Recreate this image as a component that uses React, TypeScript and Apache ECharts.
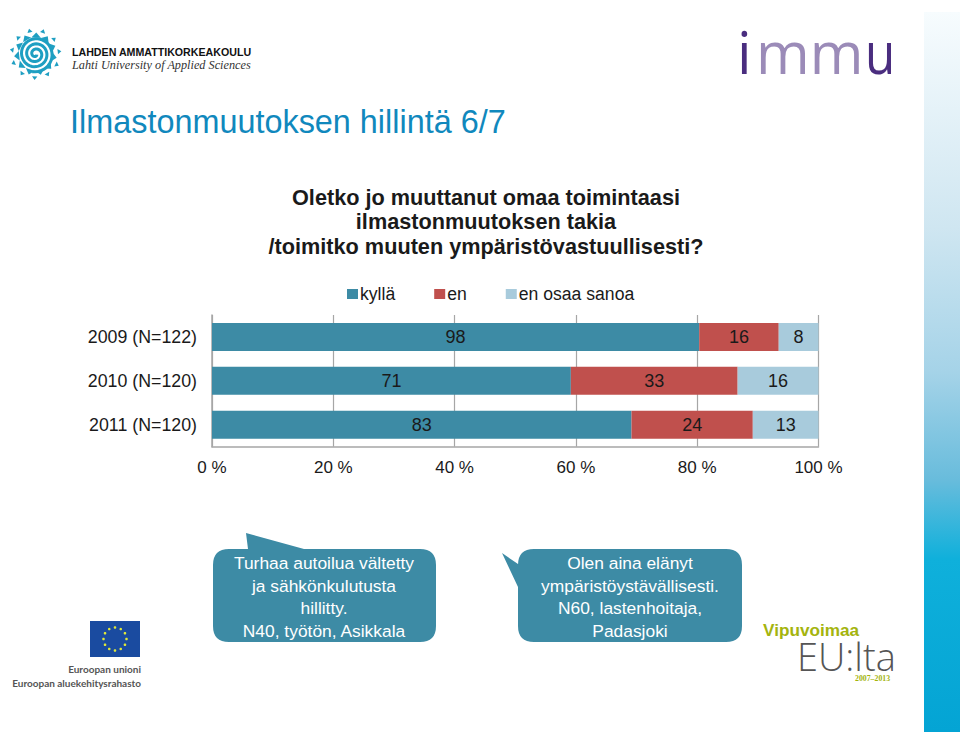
import React, { useEffect, useRef } from "react";
import * as echarts from "echarts";

const categories = ["2009 (N=122)", "2010 (N=120)", "2011 (N=120)"];
const kylla = [98, 71, 83];
const en = [16, 33, 24];
const eos = [8, 16, 13];
const totals = [122, 120, 120];
const ticks = [0, 20, 40, 60, 80, 100];
const chartTitle = ["Oletko jo muuttanut omaa toimintaasi", "ilmastonmuutoksen takia", "/toimitko muuten ympäristövastuullisesti?"];
const quoteA = ["Turhaa autoilua vältetty", "ja sähkönkulutusta", "hillitty.", "N40, työtön, Asikkala"];
const quoteB = ["Olen aina elänyt", "ympäristöystävällisesti.", "N60, lastenhoitaja,", "Padasjoki"];

const FF = "'Liberation Sans', Arial, sans-serif";
const TEAL = "#3d8ba5";
const RED = "#c0504d";
const LIGHT = "#a8cbdc";
const LOGO = "#1f9fc2";

const pct = (arr: number[]) => arr.map((v, i) => (v / totals[i]) * 100);

function bubblePath(x: number, y: number, w: number, h: number, r: number, tail: string) {
  const x2 = x + w, y2 = y + h;
  return `M${x + r} ${y}${tail.startsWith("T") ? tail.slice(1) : ""}L${x2 - r} ${y}Q${x2} ${y} ${x2} ${y + r}L${x2} ${y2 - r}Q${x2} ${y2} ${x2 - r} ${y2}L${x + r} ${y2}Q${x} ${y2} ${x} ${y2 - r}` +
    `${tail.startsWith("L") ? tail : ""}L${x} ${y + r}Q${x} ${y} ${x + r} ${y}Z`;
}

export default function App() {
  const ref = useRef<HTMLDivElement>(null);
  useEffect(() => {
    document.body.style.margin = "0";
    const chart = echarts.init(ref.current!, undefined, { renderer: "svg" });
    echarts.graphic.registerShape(
      "bubbleA",
      echarts.graphic.extendPath(bubblePath(213, 549, 223, 93, 16, "TL248 549L246 533L304 549"), {})
    );
    echarts.graphic.registerShape(
      "bubbleB",
      echarts.graphic.extendPath(bubblePath(518, 549, 224, 93, 16, "L518 587L502 553L518 564"), {})
    );
    const series = [
      { name: "kyllä", color: TEAL, vals: kylla },
      { name: "en", color: RED, vals: en },
      { name: "en osaa sanoa", color: LIGHT, vals: eos },
    ].map((s) => ({
      name: s.name,
      type: "bar" as const,
      stack: "total",
      barWidth: 28,
      itemStyle: { color: s.color },
      data: pct(s.vals),
      label: {
        show: true,
        position: "inside" as const,
        color: "#1a1a1a",
        fontFamily: FF,
        fontSize: 18,
        formatter: (p: any) => String(s.vals[p.dataIndex]),
      },
    }));

    const textLines = (lines: string[], cx: number, y0: number, lh: number, style: any) =>
      lines.map((t, i) => ({
        type: "text" as const,
        x: cx,
        y: y0 + i * lh,
        style: { text: t, align: "center", verticalAlign: "middle", fontFamily: FF, ...style },
      }));

    // sun logo: spiral and rays
    const LX = 35.5, LY = 54;
    const spiral: number[][] = [];
    for (let i = 0; i <= 120; i++) {
      const t = i / 120;
      const a = t * Math.PI * 2 * 3.2 + 0.5;
      const r = 1.5 + t * 16.5;
      spiral.push([LX + Math.cos(a) * r, LY + Math.sin(a) * r]);
    }
    const rays = Array.from({ length: 11 }, (_, i) => i).map((i) => {
      const a = (i / 11) * Math.PI * 2 - 1.25;
      const p = (r: number, d: number) => [LX + Math.cos(a + d) * r, LY + Math.sin(a + d) * r];
      return { type: "polygon" as const, shape: { points: [p(26, 0), p(22.5, -0.12), p(22.5, 0.12)] }, style: { fill: LOGO } };
    });
    const teeth = Array.from({ length: 11 }, (_, i) => i).map((i) => {
      const a = ((i + 0.5) / 11) * Math.PI * 2 - 1.25;
      const p = (r: number, d: number) => [LX + Math.cos(a + d) * r, LY + Math.sin(a + d) * r];
      return { type: "polygon" as const, shape: { points: [p(21.5, 0), p(17, -0.28), p(17, 0.28)] }, style: { fill: LOGO } };
    });

    chart.setOption({
      animation: false,
      backgroundColor: "#ffffff",
      legend: {
        top: 280,
        left: 342,
        itemWidth: 11,
        itemHeight: 10,
        itemGap: 39,
        icon: "rect",
        selectedMode: false,
        textStyle: { fontFamily: FF, fontSize: 17.6, color: "#1a1a1a", padding: [0, 0, 0, -3] },
      },
      grid: { left: 212, top: 315, width: 606.5, height: 131.7 },
      xAxis: {
        type: "value",
        min: 0,
        max: 100,
        interval: 20,
        axisLine: { show: true, lineStyle: { color: "#a6a6a6", width: 1.5 } },
        axisTick: { show: false },
        splitLine: { show: true, lineStyle: { color: "#a6a6a6", width: 1.2 } },
        axisLabel: {
          fontFamily: FF,
          fontSize: 17,
          color: "#1a1a1a",
          margin: 12,
          formatter: (v: number) => (ticks.includes(v) ? `${v} %` : ""),
        },
      },
      yAxis: {
        type: "category",
        inverse: true,
        data: categories,
        axisLine: { show: true, lineStyle: { color: "#a6a6a6", width: 1.5 } },
        axisTick: { show: false },
        axisLabel: { fontFamily: FF, fontSize: 17.8, color: "#1a1a1a", margin: 15 },
      },
      series,
      graphic: [
        // side band
        {
          type: "rect",
          shape: { x: 924, y: 12, width: 36, height: 720 },
          style: {
            fill: new echarts.graphic.LinearGradient(0, 0, 0, 1, [
              { offset: 0, color: "#f7fcfe" },
              { offset: 0.3, color: "#cfe6f1" },
              { offset: 0.5, color: "#a5d3e8" },
              { offset: 0.65, color: "#68bcdc" },
              { offset: 0.76, color: "#0fb0db" },
              { offset: 1, color: "#04a4d4" },
            ]),
          },
        },
        // Lahti logo
        { type: "polyline", shape: { points: spiral }, style: { stroke: LOGO, lineWidth: 3, fill: "none" } },
        ...teeth,
        ...rays,
        { type: "text", x: 72, y: 51.5, style: { text: "LAHDEN AMMATTIKORKEAKOULU", fontFamily: FF, fontWeight: "bold", fontSize: 10.65, fill: "#111", verticalAlign: "middle" } },
        { type: "text", x: 72, y: 65, style: { text: "Lahti University of Applied Sciences", fontFamily: "'Liberation Serif', serif", fontStyle: "italic", fontSize: 12.25, fill: "#333", verticalAlign: "middle" } },
        // immu
        { type: "text", x: 737, y: 51.5, style: { text: "i", fontFamily: "'Open Sans', sans-serif", fontSize: 58, fill: "#4a2d7f", verticalAlign: "middle" } },
        { type: "text", x: 756, y: 51.5, style: { text: "mm", fontFamily: "'Open Sans', sans-serif", fontSize: 58, fill: "#9b8bb8", verticalAlign: "middle" } },
        { type: "text", x: 865, y: 51.5, scaleX: 0.85, style: { text: "u", fontFamily: "'Open Sans', sans-serif", fontSize: 58, fill: "#4a2d7f", verticalAlign: "middle" } },
        // slide title
        { type: "text", x: 70, y: 122, style: { text: "Ilmastonmuutoksen hillintä 6/7", fontFamily: FF, fontSize: 32.4, fill: "#1088bd", verticalAlign: "middle" } },
        // chart title
        ...textLines(chartTitle, 486, 197, 24.7, { fontSize: 21.7, fontWeight: "bold", fill: "#1a1a1a" }),
        // bubbles
        { type: "bubbleA", style: { fill: TEAL } },
        { type: "bubbleB", style: { fill: TEAL } },
        ...textLines(quoteA, 324, 563, 22.7, { fontSize: 17.4, fill: "#ffffff" }),
        ...textLines(quoteB, 630, 563, 22.7, { fontSize: 17.4, fill: "#ffffff" }),
        // EU
        { type: "rect", shape: { x: 90, y: 621, width: 50, height: 36 }, style: { fill: "#1a4ba0" } },
        ...Array.from({ length: 12 }, (_, i) => i).map((i) => {
          const a = (i / 12) * Math.PI * 2;
          return {
            type: "circle" as const,
            shape: { cx: 115 + Math.cos(a) * 11.5, cy: 639 + Math.sin(a) * 11.5, r: 1.3 },
            style: { fill: "#dfe83a" },
          };
        }),
        { type: "text", x: 141, y: 669, style: { text: "Euroopan unioni", align: "right", fontFamily: "Lato, sans-serif", fontWeight: "bold", fontSize: 10, fill: "#555", verticalAlign: "middle" } },
        { type: "text", x: 141, y: 683, style: { text: "Euroopan aluekehitysrahasto", align: "right", fontFamily: "Lato, sans-serif", fontWeight: "bold", fontSize: 10, fill: "#555", verticalAlign: "middle" } },
        // Vipuvoimaa
        { type: "text", x: 763, y: 630, style: { text: "Vipuvoimaa", fontFamily: FF, fontWeight: "bold", fontSize: 17.2, fill: "#a4b40e", verticalAlign: "middle" } },
        { type: "text", x: 797, y: 655.5, style: { text: "EU:lta", fontFamily: "'Open Sans', sans-serif", fontWeight: 300, fontSize: 38, lineHeight: 28, fill: "#555", verticalAlign: "middle" } },
        { type: "text", x: 855, y: 678, style: { text: "2007–2013", fontFamily: "'Liberation Serif', serif", fontWeight: "bold", fontSize: 7.8, fill: "#a4b40e", verticalAlign: "middle" } },
      ],
    });
    return () => chart.dispose();
  }, []);
  return <div ref={ref} style={{ position: "absolute", left: 0, top: 0, width: 960, height: 732 }} />;
}
